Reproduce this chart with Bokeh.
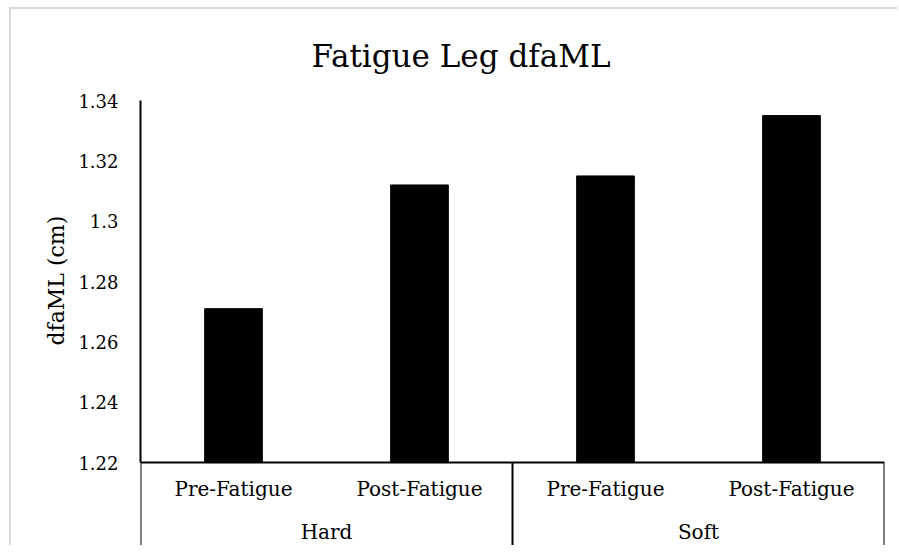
from bokeh.plotting import figure
from bokeh.models import (FactorRange, Range1d, LinearAxis, CategoricalAxis, FixedTicker,
                          ColumnDataSource, Title)
from bokeh.embed import file_html
from bokeh.resources import INLINE

# ---- data ----
groups = ["Hard", "Soft"]
conditions = ["Pre-Fatigue", "Post-Fatigue"]
values = [1.271, 1.312, 1.315, 1.335]
y_ticks = [1.22, 1.24, 1.26, 1.28, 1.30, 1.32, 1.34]
y_tick_labels = ["1.22", "1.24", "1.26", "1.28", "1.3", "1.32", "1.34"]
title_text = "Fatigue Leg dfaML"
y_title = "dfaML (cm)"

baseline = 1.22
y_top = 1.34
y_lo = 1.1925

FONT = "DejaVu Serif"

factors = [(g, c) for g in groups for c in conditions]
source = ColumnDataSource(dict(x=factors, top=values))

p = figure(
    x_range=FactorRange(factors=factors, factor_padding=0, group_padding=0, range_padding=0),
    y_range=Range1d(y_lo, y_top),
    width=888, height=538,
    output_backend="svg", toolbar_location=None,
    min_border_left=129, min_border_right=15, min_border_top=91, min_border_bottom=2,
)
p.styles = {
    "border-left": "2px solid #d9d9d9",
    "border-top": "2px solid #d9d9d9",
    "margin-left": "9px",
    "margin-top": "7px",
}
p.extra_x_ranges = {"grp": FactorRange(factors=groups, range_padding=0)}

p.vbar(x="x", top="top", bottom=baseline, width=0.31, source=source,
       fill_color="black", line_color="black")

p.xgrid.visible = False
p.ygrid.visible = False
p.outline_line_color = None
p.background_fill_color = "white"
p.border_fill_color = "white"

# title
p.title.text = title_text
p.title.text_font = FONT
p.title.text_font_size = "31px"
p.title.text_font_style = "normal"
p.title.text_color = "black"
p.title.align = "left"
p.title.offset = 171
p.title.standoff = 53

# x axis (category axis sitting on the baseline)
xa = p.xaxis[0]
xa.fixed_location = baseline
xa.axis_line_color = "black"
xa.axis_line_width = 2
xa.major_tick_line_color = None
xa.minor_tick_line_color = None
xa.major_label_text_font = FONT
xa.major_label_text_font_size = "20px"
xa.major_label_text_color = "black"
xa.major_label_standoff = 8
xa.group_text_color = None
xa.separator_line_color = None

# group row (Hard / Soft)
ga = CategoricalAxis(x_range_name="grp", fixed_location=baseline,
                     axis_line_color=None, major_tick_line_color=None,
                     minor_tick_line_color=None,
                     major_label_text_font=FONT, major_label_text_font_size="20px",
                     major_label_text_color="black", major_label_standoff=51)
p.add_layout(ga, "below")

# y axis
ya = p.yaxis[0]
ya.bounds = (baseline, y_top)
ya.ticker = FixedTicker(ticks=y_ticks)
ya.major_label_overrides = {t: l for t, l in zip(y_ticks, y_tick_labels)}
ya.axis_line_color = "black"
ya.axis_line_width = 2
ya.major_tick_line_color = None
ya.minor_tick_line_color = None
ya.major_label_text_font = FONT
ya.major_label_text_font_size = "18px"
ya.major_label_text_color = "black"
ya.major_label_standoff = 16

# y title, centred on the value part of the axis
yt = Title(text=y_title, align="left", offset=200, standoff=14,
           text_font=FONT, text_font_size="22px", text_font_style="normal",
           text_color="black")
p.add_layout(yt, "left")

# vertical lines of the category table below the baseline:
# left edge, between groups, right edge (synthetic factor coordinates)
n_sub = len(conditions)
n_all = len(factors)
for loc in [0, n_sub, n_all]:
    la = LinearAxis(bounds=(y_lo, baseline), ticker=FixedTicker(ticks=[]),
                    fixed_location=loc,
                    axis_line_color="black", axis_line_width=2,
                    major_tick_line_color=None, minor_tick_line_color=None,
                    major_label_text_font_size="0px")
    p.add_layout(la, "left")

open("out.html", "w").write(file_html(p, INLINE))
